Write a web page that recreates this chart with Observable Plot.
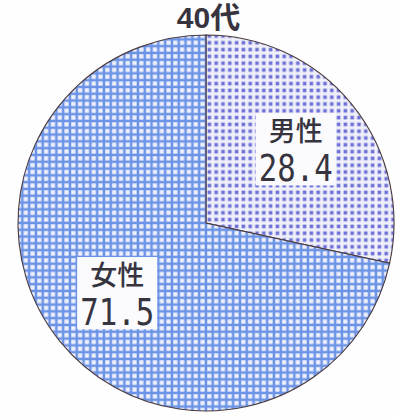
<!DOCTYPE html>
<html><head><meta charset="utf-8">
<script src="https://cdn.jsdelivr.net/npm/d3@7"></script>
<script src="https://cdn.jsdelivr.net/npm/@observablehq/plot@0.6"></script>
<style>
body{margin:0;background:#fefefe;width:397px;height:419px;overflow:hidden}
#title{height:33px;padding-top:1px;font:bold 30px "Liberation Sans","Noto Sans CJK JP";color:#38343f;text-align:center;line-height:33px;padding-left:20px;box-sizing:content-box}
#chart svg{display:block}
</style></head><body>
<div id="title"></div>
<div id="chart"></div>
<script>
const title = "40代";
const categories = ["男性", "女性"];
const values = [28.4, 71.5];

document.getElementById("title").textContent = title;

const data = categories.map((c, i) => ({category: c, value: values[i]}));
const arcs = d3.pie().sort(null).value(d => d.value)(data);
const labelR = 0.61;
const labels = arcs.map(a => {
  const m = (a.startAngle + a.endAngle) / 2;
  return {category: a.data.category, value: a.data.value.toFixed(1), x: labelR * Math.sin(m), y: labelR * Math.cos(m)};
});

function pieMark(index, scales, values, dims) {
  const cx = scales.x(0), cy = scales.y(0), r = scales.x(1) - scales.x(0);
  const g = d3.create("svg:g");
  const defs = g.append("defs");
  const P = 6.8;
  const p1 = defs.append("pattern").attr("id", "pat0").attr("patternUnits", "userSpaceOnUse")
    .attr("width", P).attr("height", P);
  p1.append("rect").attr("width", P).attr("height", P).attr("fill", "#f0f0fa");
  p1.append("rect").attr("x", 1.6).attr("y", 1.6).attr("width", 3.6).attr("height", 3.6).attr("fill", "#6e72d6");
  const p2 = defs.append("pattern").attr("id", "pat1").attr("patternUnits", "userSpaceOnUse")
    .attr("width", P).attr("height", P);
  p2.append("rect").attr("width", P).attr("height", P).attr("fill", "#6b93e6");
  p2.append("rect").attr("x", 1.2).attr("y", 1.2).attr("width", 4.3).attr("height", 4.3).attr("fill", "#eef0fb");
  const arc = d3.arc().innerRadius(0).outerRadius(r);
  g.selectAll("path.slice").data(arcs).join("path")
    .attr("class", "slice")
    .attr("transform", `translate(${cx},${cy})`)
    .attr("d", arc)
    .attr("fill", (d, i) => `url(#pat${i})`)
    .attr("stroke", "#4a3a3e")
    .attr("stroke-width", 1.1);
  return g.node();
}

const chart = Plot.plot({
  width: 397,
  height: 385,
  marginLeft: 18,
  marginRight: 3,
  marginTop: 1,
  marginBottom: 8,
  x: {domain: [-1, 1], axis: null},
  y: {domain: [-1, 1], axis: null},
  style: {background: "transparent", overflow: "visible"},
  marks: [
    pieMark,
    Plot.text(labels, {x: "x", y: "y", text: "category", dy: -19, fontSize: 27, fontWeight: 500,
      fontFamily: "Noto Sans CJK JP", fill: "#36343f"}),
    Plot.text(labels, {x: "x", y: "y", text: "value", dy: 18, fontSize: 37,
      fontFamily: "DejaVu Sans Mono", fill: "#36343f"})
  ]
});
document.getElementById("chart").appendChild(chart);

// white boxes behind each label pair
const textGroups = chart.querySelectorAll('g[aria-label="text"]');
const catTexts = textGroups[0].querySelectorAll("text");
const valTexts = textGroups[1].querySelectorAll("text");
valTexts.forEach(t => { t.setAttribute("textLength", 74); t.setAttribute("lengthAdjust", "spacingAndGlyphs"); });
const svgRect = chart.getBoundingClientRect();
const boxLayer = d3.create("svg:g").attr("aria-label", "label-boxes");
catTexts.forEach((t, i) => {
  const a = t.getBoundingClientRect(), b = valTexts[i].getBoundingClientRect();
  const x0 = Math.min(a.left, b.left) - 3 - svgRect.left, x1 = Math.max(a.right, b.right) + 3 - svgRect.left;
  const y0 = Math.min(a.top, b.top) + 3 - svgRect.top, y1 = Math.max(a.bottom, b.bottom) - 5 - svgRect.top;
  boxLayer.append("rect").attr("x", x0).attr("y", y0).attr("width", x1 - x0).attr("height", y1 - y0).attr("fill", "#fbfbfd");
});
chart.insertBefore(boxLayer.node(), textGroups[0]);
</script>
</body></html>
